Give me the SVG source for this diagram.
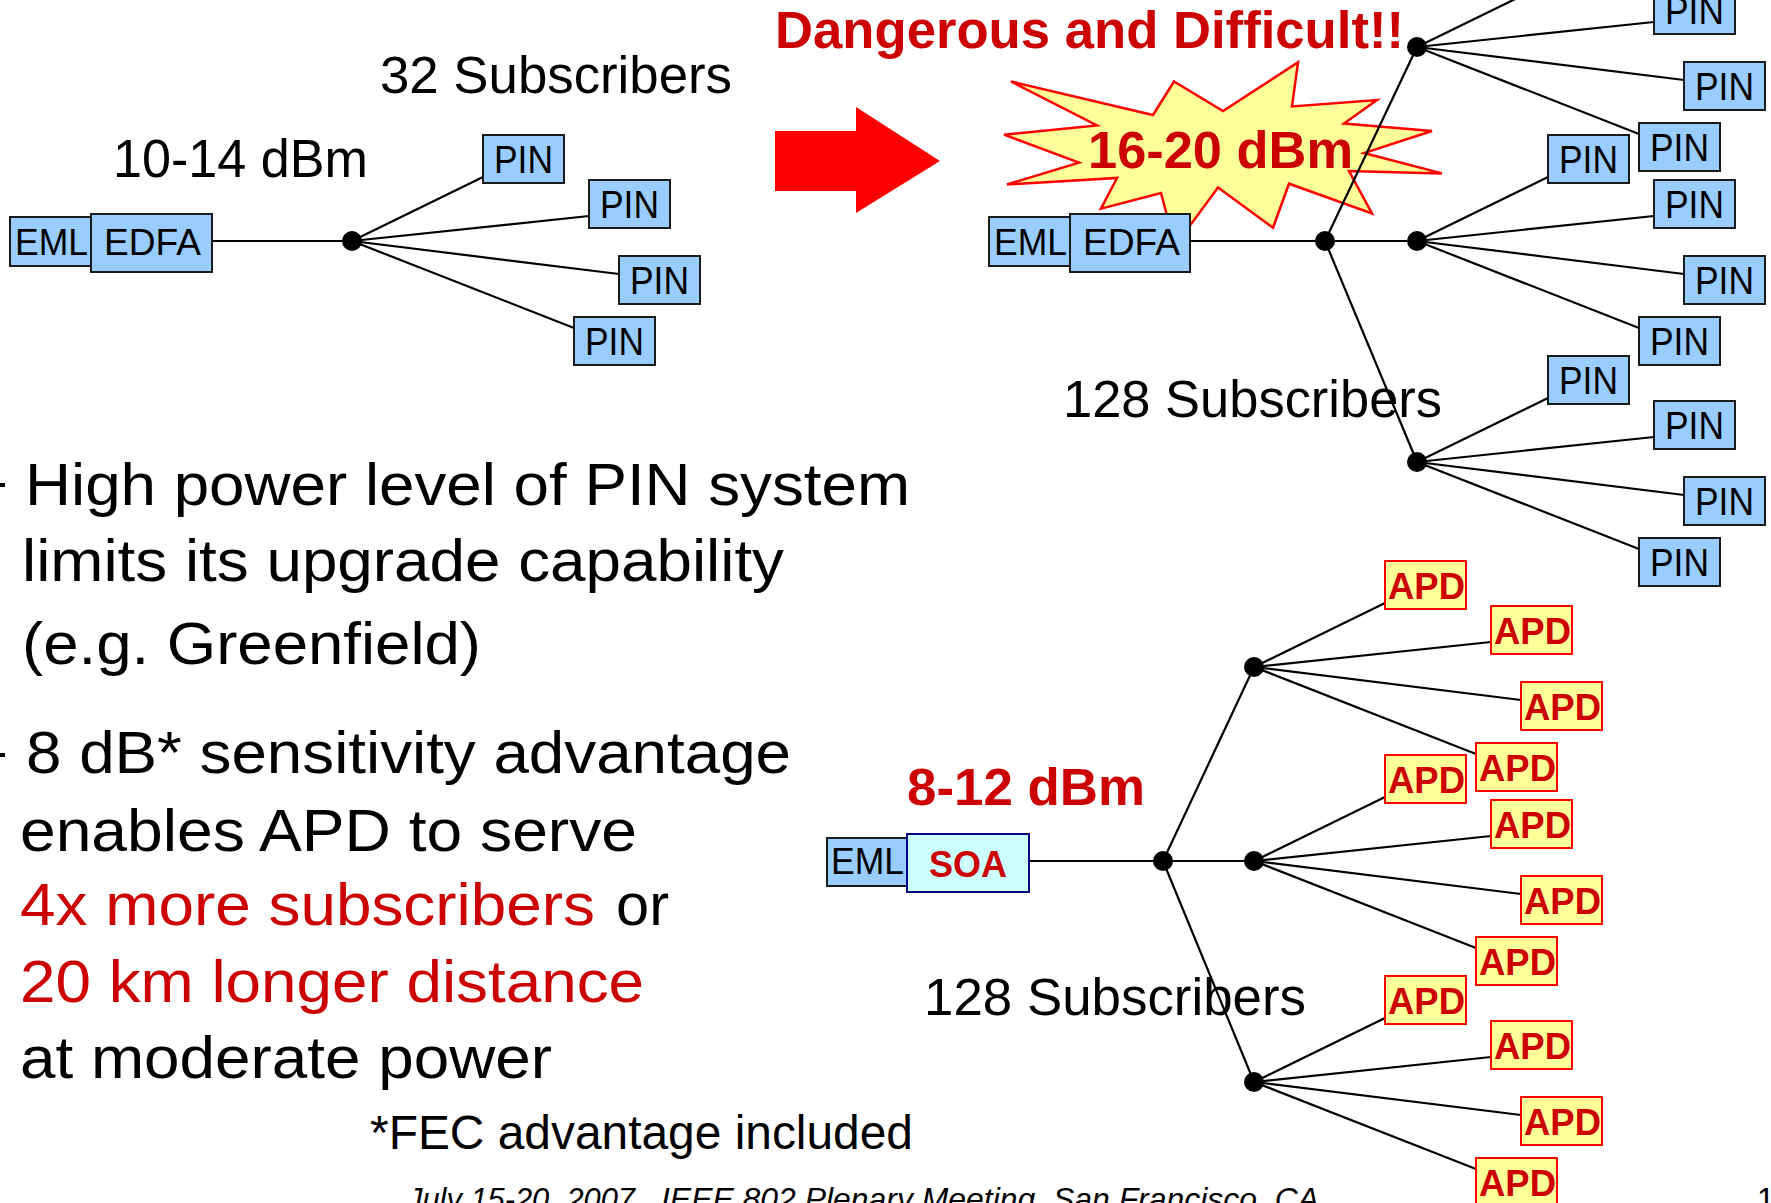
<svg xmlns="http://www.w3.org/2000/svg" width="1771" height="1203" viewBox="0 0 1771 1203">
<style>
text{font-family:"Liberation Sans",Arial,sans-serif}
.pin rect{fill:#99CCFF;stroke:#1a1a1a;stroke-width:2}
.pin text{font-size:38px;fill:#000}
.apd rect{fill:#FFFF99;stroke:#FF0000;stroke-width:2}
.apd text{font-size:36px;font-weight:bold;fill:#CC0000}
.blue{fill:#99CCFF;stroke:#1a1a1a;stroke-width:2}
.lbl{font-size:36px;fill:#000}
.big{font-size:51px;fill:#000}
.red{font-weight:bold;fill:#CC0000}
.body{font-size:59px;fill:#000}
.rb{fill:#CC0000}
#connectors line{stroke:#000;stroke-width:2.2}
.dot{fill:#000}
</style>
<rect width="1771" height="1203" fill="#fff"/>

<!-- decorations -->
<polygon id="arrow" points="775,131 856,131 856,107 940,161 856,213 856,191 775,191" fill="#FF0000"/>
<polygon id="star" points="1011,81.5 1153,115 1174,81.5 1223,111 1298,62.4 1292,106.4 1377,100 1344,123.6 1432,131 1364,153 1442,173.4 1349,171 1372,213.5 1289,183.7 1273,227.7 1218,187.5 1175,246 1161,193 1101,208.6 1117,178 1007,184.5 1079,162.6 1004,134.7 1097,125.5" fill="#FFFF99" stroke="#FF0000" stroke-width="2.5" stroke-linejoin="miter"/>

<!-- labels -->
<g id="labels">
<text class="big" x="380" y="93" textLength="352" lengthAdjust="spacingAndGlyphs">32 Subscribers</text>
<text x="113" y="177" font-size="53" textLength="255" lengthAdjust="spacingAndGlyphs">10-14 dBm</text>
<text class="red" x="775" y="48" font-size="51" textLength="629" lengthAdjust="spacingAndGlyphs">Dangerous and Difficult!!</text>
<text class="red" x="1088" y="168" font-size="51" textLength="265" lengthAdjust="spacingAndGlyphs">16-20 dBm</text>
<text class="big" x="1063" y="417" textLength="379" lengthAdjust="spacingAndGlyphs">128 Subscribers</text>
<text class="red" x="907" y="805" font-size="51" textLength="238" lengthAdjust="spacingAndGlyphs">8-12 dBm</text>
<text class="big" x="924" y="1015" textLength="382" lengthAdjust="spacingAndGlyphs">128 Subscribers</text>
</g>

<!-- bullet text -->
<g id="bullets">
<rect x="0" y="483" width="5" height="4" fill="#000"/>
<rect x="0" y="753" width="5" height="4" fill="#000"/>
<text class="body" x="25" y="505" textLength="885" lengthAdjust="spacingAndGlyphs">High power level of PIN system</text>
<text class="body" x="22" y="581" textLength="762" lengthAdjust="spacingAndGlyphs">limits its upgrade capability</text>
<text class="body" x="22" y="664" textLength="459" lengthAdjust="spacingAndGlyphs">(e.g. Greenfield)</text>
<text class="body" x="26" y="773" textLength="765" lengthAdjust="spacingAndGlyphs">8 dB* sensitivity advantage</text>
<text class="body" x="20" y="851" textLength="617" lengthAdjust="spacingAndGlyphs">enables APD to serve</text>
<text class="body rb" x="20" y="925" textLength="575" lengthAdjust="spacingAndGlyphs">4x more subscribers</text>
<text class="body" x="616" y="925" textLength="53" lengthAdjust="spacingAndGlyphs">or</text>
<text class="body rb" x="20" y="1002" textLength="624" lengthAdjust="spacingAndGlyphs">20 km longer distance</text>
<text class="body" x="20" y="1078" textLength="532" lengthAdjust="spacingAndGlyphs">at moderate power</text>
<text x="370" y="1149" font-size="48" textLength="543" lengthAdjust="spacingAndGlyphs">*FEC advantage included</text>
</g>

<g id="footer" font-style="italic" font-size="32">
<text x="407" y="1210" textLength="228" lengthAdjust="spacingAndGlyphs">July 15-20, 2007</text>
<text x="661" y="1210" textLength="658" lengthAdjust="spacingAndGlyphs">IEEE 802 Plenary Meeting, San Francisco, CA</text>
<text x="1757" y="1210" font-style="normal">1</text>
</g>

<!-- connectors -->
<g id="connectors">
<line x1="212" y1="241" x2="352" y2="241"/>
<line x1="352" y1="241" x2="483" y2="177"/><line x1="352" y1="241" x2="589" y2="216"/><line x1="352" y1="241" x2="619" y2="274"/><line x1="352" y1="241" x2="574" y2="328"/>

<line x1="1190" y1="241" x2="1417" y2="241"/>
<line x1="1325" y1="241" x2="1417" y2="47"/>
<line x1="1325" y1="241" x2="1417" y2="462"/>
<line x1="1417" y1="47" x2="1548" y2="-17"/><line x1="1417" y1="47" x2="1654" y2="22"/><line x1="1417" y1="47" x2="1684" y2="80"/><line x1="1417" y1="47" x2="1639" y2="134"/>
<line x1="1417" y1="241" x2="1548" y2="177"/><line x1="1417" y1="241" x2="1654" y2="216"/><line x1="1417" y1="241" x2="1684" y2="274"/><line x1="1417" y1="241" x2="1639" y2="328"/>
<line x1="1417" y1="462" x2="1548" y2="398"/><line x1="1417" y1="462" x2="1654" y2="437"/><line x1="1417" y1="462" x2="1684" y2="495"/><line x1="1417" y1="462" x2="1639" y2="549"/>

<line x1="1029" y1="861" x2="1254" y2="861"/>
<line x1="1163" y1="861" x2="1254" y2="667"/>
<line x1="1163" y1="861" x2="1254" y2="1082"/>
<line x1="1254" y1="667" x2="1385" y2="603"/><line x1="1254" y1="667" x2="1491" y2="642"/><line x1="1254" y1="667" x2="1521" y2="700"/><line x1="1254" y1="667" x2="1476" y2="754"/>
<line x1="1254" y1="861" x2="1385" y2="797"/><line x1="1254" y1="861" x2="1491" y2="836"/><line x1="1254" y1="861" x2="1521" y2="894"/><line x1="1254" y1="861" x2="1476" y2="948"/>
<line x1="1254" y1="1082" x2="1385" y2="1018"/><line x1="1254" y1="1082" x2="1491" y2="1057"/><line x1="1254" y1="1082" x2="1521" y2="1115"/><line x1="1254" y1="1082" x2="1476" y2="1169"/>
</g>

<!-- splitters -->
<g id="splitters">
<circle class="dot" cx="352" cy="241" r="10"/>
<circle class="dot" cx="1325" cy="241" r="10"/>
<circle class="dot" cx="1417" cy="47" r="10"/>
<circle class="dot" cx="1417" cy="241" r="10"/>
<circle class="dot" cx="1417" cy="462" r="10"/>
<circle class="dot" cx="1163" cy="861" r="10"/>
<circle class="dot" cx="1254" cy="667" r="10"/>
<circle class="dot" cx="1254" cy="861" r="10"/>
<circle class="dot" cx="1254" cy="1082" r="10"/>
</g>

<!-- transmitters -->
<g id="eml1"><rect class="blue" x="10" y="217" width="81" height="49"/><text class="lbl" x="15" y="255" textLength="73" lengthAdjust="spacingAndGlyphs">EML</text></g>
<g id="edfa1"><rect class="blue" x="91" y="214" width="121" height="58"/><text class="lbl" x="104" y="255" textLength="97" lengthAdjust="spacingAndGlyphs">EDFA</text></g>
<g id="eml2"><rect class="blue" x="989" y="217" width="81" height="49"/><text class="lbl" x="994" y="255" textLength="73" lengthAdjust="spacingAndGlyphs">EML</text></g>
<g id="edfa2"><rect class="blue" x="1070" y="214" width="120" height="58"/><text class="lbl" x="1083" y="255" textLength="97" lengthAdjust="spacingAndGlyphs">EDFA</text></g>
<g id="eml3"><rect class="blue" x="827" y="838" width="80" height="48"/><text class="lbl" x="831" y="874" textLength="73" lengthAdjust="spacingAndGlyphs">EML</text></g>
<g id="soa"><rect x="907" y="834" width="122" height="58" fill="#CCFFFF" stroke="#000080" stroke-width="2"/><text x="929" y="877" font-size="37" font-weight="bold" fill="#CC0000" textLength="78" lengthAdjust="spacingAndGlyphs">SOA</text></g>

<!-- PIN receivers -->
<g id="pin-l1" class="pin"><rect x="483" y="135" width="81" height="48"/><text x="494" y="173" textLength="59" lengthAdjust="spacingAndGlyphs">PIN</text></g>
<g id="pin-l2" class="pin"><rect x="589" y="180" width="81" height="48"/><text x="600" y="218" textLength="59" lengthAdjust="spacingAndGlyphs">PIN</text></g>
<g id="pin-l3" class="pin"><rect x="619" y="256" width="81" height="48"/><text x="630" y="294" textLength="59" lengthAdjust="spacingAndGlyphs">PIN</text></g>
<g id="pin-l4" class="pin"><rect x="574" y="317" width="81" height="48"/><text x="585" y="355" textLength="59" lengthAdjust="spacingAndGlyphs">PIN</text></g>

<g id="pin-a1" class="pin"><rect x="1548" y="-59" width="81" height="48"/><text x="1559" y="-21" textLength="59" lengthAdjust="spacingAndGlyphs">PIN</text></g>
<g id="pin-a2" class="pin"><rect x="1654" y="-14" width="81" height="48"/><text x="1665" y="24" textLength="59" lengthAdjust="spacingAndGlyphs">PIN</text></g>
<g id="pin-a3" class="pin"><rect x="1684" y="62" width="81" height="48"/><text x="1695" y="100" textLength="59" lengthAdjust="spacingAndGlyphs">PIN</text></g>
<g id="pin-a4" class="pin"><rect x="1639" y="123" width="81" height="48"/><text x="1650" y="161" textLength="59" lengthAdjust="spacingAndGlyphs">PIN</text></g>

<g id="pin-b1" class="pin"><rect x="1548" y="135" width="81" height="48"/><text x="1559" y="173" textLength="59" lengthAdjust="spacingAndGlyphs">PIN</text></g>
<g id="pin-b2" class="pin"><rect x="1654" y="180" width="81" height="48"/><text x="1665" y="218" textLength="59" lengthAdjust="spacingAndGlyphs">PIN</text></g>
<g id="pin-b3" class="pin"><rect x="1684" y="256" width="81" height="48"/><text x="1695" y="294" textLength="59" lengthAdjust="spacingAndGlyphs">PIN</text></g>
<g id="pin-b4" class="pin"><rect x="1639" y="317" width="81" height="48"/><text x="1650" y="355" textLength="59" lengthAdjust="spacingAndGlyphs">PIN</text></g>

<g id="pin-c1" class="pin"><rect x="1548" y="356" width="81" height="48"/><text x="1559" y="394" textLength="59" lengthAdjust="spacingAndGlyphs">PIN</text></g>
<g id="pin-c2" class="pin"><rect x="1654" y="401" width="81" height="48"/><text x="1665" y="439" textLength="59" lengthAdjust="spacingAndGlyphs">PIN</text></g>
<g id="pin-c3" class="pin"><rect x="1684" y="477" width="81" height="48"/><text x="1695" y="515" textLength="59" lengthAdjust="spacingAndGlyphs">PIN</text></g>
<g id="pin-c4" class="pin"><rect x="1639" y="538" width="81" height="48"/><text x="1650" y="576" textLength="59" lengthAdjust="spacingAndGlyphs">PIN</text></g>

<!-- APD receivers -->
<g id="apd-a1" class="apd"><rect x="1385" y="561" width="81" height="48"/><text x="1388" y="599" textLength="77" lengthAdjust="spacingAndGlyphs">APD</text></g>
<g id="apd-a2" class="apd"><rect x="1491" y="606" width="81" height="48"/><text x="1494" y="644" textLength="77" lengthAdjust="spacingAndGlyphs">APD</text></g>
<g id="apd-a3" class="apd"><rect x="1521" y="682" width="81" height="48"/><text x="1524" y="720" textLength="77" lengthAdjust="spacingAndGlyphs">APD</text></g>
<g id="apd-a4" class="apd"><rect x="1476" y="743" width="81" height="48"/><text x="1479" y="781" textLength="77" lengthAdjust="spacingAndGlyphs">APD</text></g>

<g id="apd-b1" class="apd"><rect x="1385" y="755" width="81" height="48"/><text x="1388" y="793" textLength="77" lengthAdjust="spacingAndGlyphs">APD</text></g>
<g id="apd-b2" class="apd"><rect x="1491" y="800" width="81" height="48"/><text x="1494" y="838" textLength="77" lengthAdjust="spacingAndGlyphs">APD</text></g>
<g id="apd-b3" class="apd"><rect x="1521" y="876" width="81" height="48"/><text x="1524" y="914" textLength="77" lengthAdjust="spacingAndGlyphs">APD</text></g>
<g id="apd-b4" class="apd"><rect x="1476" y="937" width="81" height="48"/><text x="1479" y="975" textLength="77" lengthAdjust="spacingAndGlyphs">APD</text></g>

<g id="apd-c1" class="apd"><rect x="1385" y="976" width="81" height="48"/><text x="1388" y="1014" textLength="77" lengthAdjust="spacingAndGlyphs">APD</text></g>
<g id="apd-c2" class="apd"><rect x="1491" y="1021" width="81" height="48"/><text x="1494" y="1059" textLength="77" lengthAdjust="spacingAndGlyphs">APD</text></g>
<g id="apd-c3" class="apd"><rect x="1521" y="1097" width="81" height="48"/><text x="1524" y="1135" textLength="77" lengthAdjust="spacingAndGlyphs">APD</text></g>
<g id="apd-c4" class="apd"><rect x="1476" y="1158" width="81" height="48"/><text x="1479" y="1196" textLength="77" lengthAdjust="spacingAndGlyphs">APD</text></g>
</svg>
